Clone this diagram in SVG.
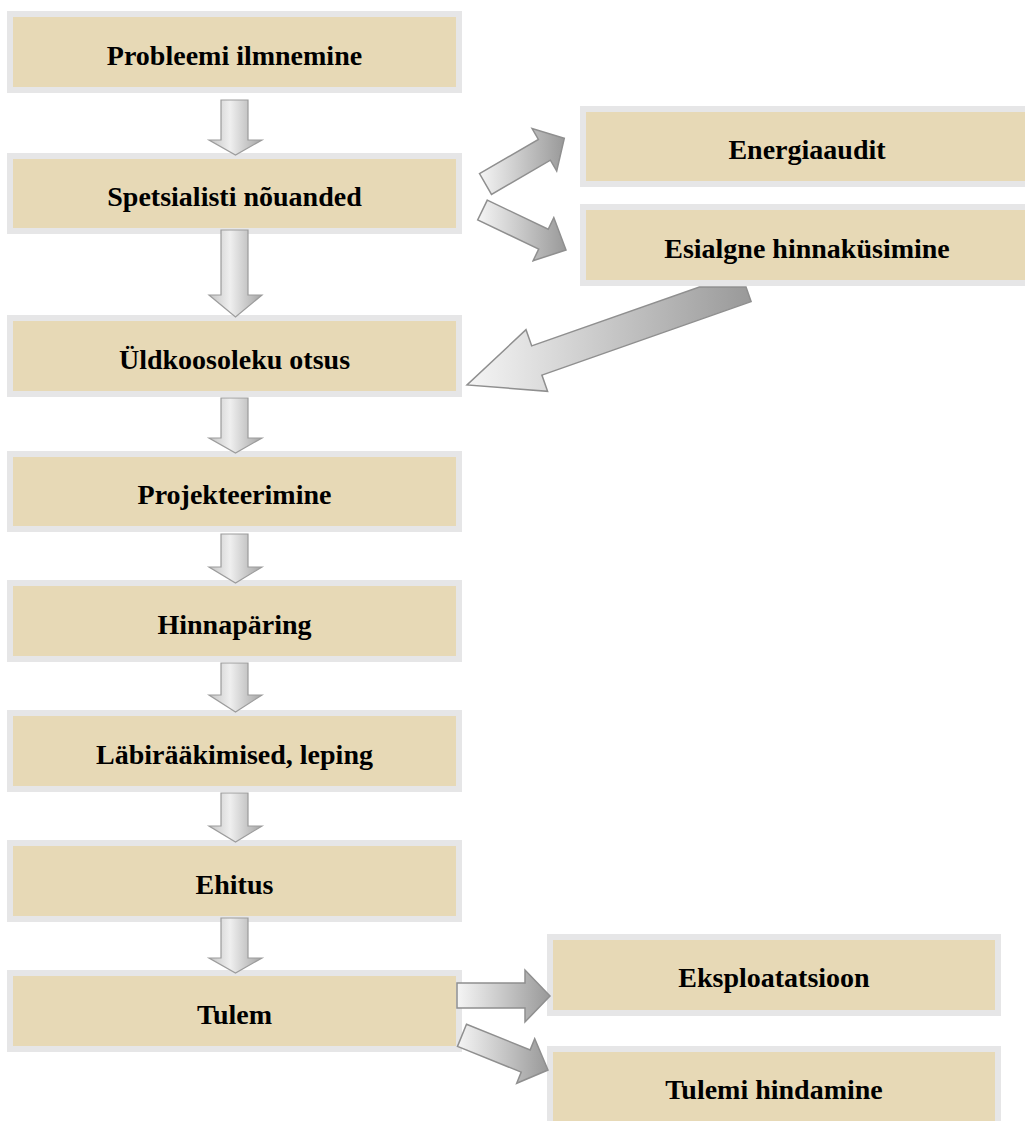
<svg xmlns="http://www.w3.org/2000/svg" width="1025" height="1121" viewBox="0 0 1025 1121">
<style>
.box{fill:#e7d9b6;stroke:#e6e6e7;stroke-width:6}
.lbl{font-family:"Liberation Serif","Times New Roman",serif;font-weight:bold;font-size:28px;fill:#000;text-anchor:middle}
.va{fill:url(#gv);stroke:#9c9c9c;stroke-width:1.2}
.da{fill:url(#gd);stroke:#8f8f8f;stroke-width:1.5}
</style>
<defs>
<linearGradient id="gv" x1="0" y1="0" x2="1" y2="0">
<stop offset="0" stop-color="#c4c4c4"/>
<stop offset="0.4" stop-color="#efefef"/>
<stop offset="1" stop-color="#a4a4a4"/>
</linearGradient>
<linearGradient id="gd" x1="0" y1="0" x2="1" y2="0">
<stop offset="0" stop-color="#f5f5f5"/>
<stop offset="1" stop-color="#999999"/>
</linearGradient>
</defs>
<rect width="1025" height="1121" fill="#ffffff"/>
<g id="nodes">
<g id="n1"><rect class="box" x="10" y="14" width="449" height="76"/><text class="lbl" x="234.5" y="64.5">Probleemi ilmnemine</text></g>
<g id="n2"><rect class="box" x="10" y="156" width="449" height="75"/><text class="lbl" x="234.5" y="205.5">Spetsialisti nõuanded</text></g>
<g id="n3"><rect class="box" x="10" y="318" width="449" height="76"/><text class="lbl" x="234.5" y="368.5">Üldkoosoleku otsus</text></g>
<g id="n4"><rect class="box" x="10" y="454" width="449" height="75"/><text class="lbl" x="234.5" y="503.5">Projekteerimine</text></g>
<g id="n5"><rect class="box" x="10" y="583" width="449" height="76"/><text class="lbl" x="234.5" y="633.5">Hinnapäring</text></g>
<g id="n6"><rect class="box" x="10" y="713" width="449" height="76"/><text class="lbl" x="234.5" y="763.5">Läbirääkimised, leping</text></g>
<g id="n7"><rect class="box" x="10" y="843" width="449" height="76"/><text class="lbl" x="234.5" y="893.5">Ehitus</text></g>
<g id="n8"><rect class="box" x="10" y="973" width="449" height="76"/><text class="lbl" x="234.5" y="1023.5">Tulem</text></g>
<g id="n9"><rect class="box" x="583" y="109" width="450" height="75"/><text class="lbl" x="807" y="159">Energiaaudit</text></g>
<g id="n10"><rect class="box" x="583" y="207" width="450" height="76"/><text class="lbl" x="807" y="258">Esialgne hinnaküsimine</text></g>
<g id="n11"><rect class="box" x="550" y="937" width="448" height="76"/><text class="lbl" x="774" y="987">Eksploatatsioon</text></g>
<g id="n12"><rect class="box" x="550" y="1049" width="448" height="80"/><text class="lbl" x="774" y="1099">Tulemi hindamine</text></g>
</g>
<g id="connectors">
<polygon class="va" points="221,100 248,100 248,140 262,140 235.5,155 209,140 221,140"/>
<polygon class="va" points="221,230 248,230 248,295 262,295 235.5,317 209,295 221,295"/>
<polygon class="va" points="221,398 248,398 248,438 262,438 235.5,453 209,438 221,438"/>
<polygon class="va" points="221,534 248,534 248,567 262,567 235.5,583 209,567 221,567"/>
<polygon class="va" points="221,663 248,663 248,695 262,695 235.5,712 209,695 221,695"/>
<polygon class="va" points="221,793 248,793 248,826 262,826 235.5,842 209,826 221,826"/>
<polygon class="va" points="221,918 248,918 248,958 262,958 235.5,973 209,958 221,958"/>
<polygon class="da" points="479.5,173.6 538.4,139.4 532.1,128.6 564.3,138.3 556.7,171 550.4,160.2 491.5,194.4"/>
<polygon class="da" points="487.3,200.1 548.2,229.3 553.8,217.6 566,250 533.1,260.8 538.7,249.1 477.7,219.9"/>
<polygon class="da" points="746,287 751.1,301.6 541.9,375.1 547.6,391.3 467,385 526,329.7 531.7,345.9 699.4,287"/>
<polygon class="da" points="457,983 525,983 525,970 550,996 525,1022 525,1008 457,1008"/>
<polygon class="da" points="466.5,1024.2 530.2,1049.9 534.7,1038.7 548,1070 516.7,1083.3 521.2,1072.1 457.5,1046.4"/>
</g>
</svg>
